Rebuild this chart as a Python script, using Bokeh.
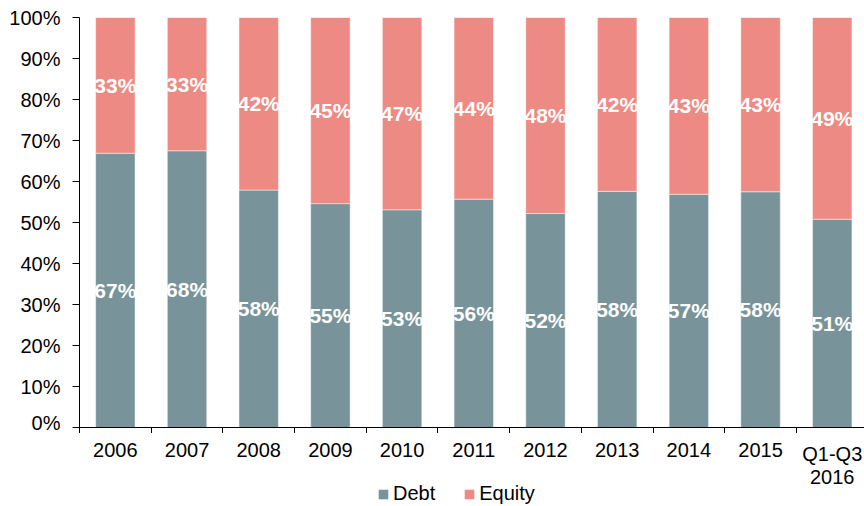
from bokeh.plotting import figure
from bokeh.layouts import column
from bokeh.models import ColumnDataSource, FixedTicker, Legend, LegendItem, Range1d
from bokeh.core.properties import value
from bokeh.embed import file_html
from bokeh.resources import INLINE
import math

# Share of debt vs equity financing per period (percent)
categories = ["2006", "2007", "2008", "2009", "2010", "2011", "2012",
              "2013", "2014", "2015", "Q1-Q3\n2016"]
debt = [66.9, 67.5, 57.9, 54.6, 53.1, 55.7, 52.2, 57.6, 56.9, 57.5, 50.8]
equity = [33.1, 32.5, 42.1, 45.4, 46.9, 44.3, 47.8, 42.4, 43.1, 42.5, 49.2]
y_ticks = [0, 10, 20, 30, 40, 50, 60, 70, 80, 90, 100]

DEBT_COLOR = "#78949A"
EQUITY_COLOR = "#ED8A83"
FONT = "Liberation Sans"
X_RANGE = (-0.5, 10.45)


def pct(v):
    return f"{int(math.floor(v + 0.5))}%"


xs = list(range(len(categories)))
src = ColumnDataSource(dict(
    x=xs,
    debt=debt,
    equity=equity,
    eq_top=[d + e for d, e in zip(debt, equity)],
    debt_mid=[d / 2 for d in debt],
    eq_mid=[d + e / 2 for d, e in zip(debt, equity)],
    debt_lbl=[pct(d) for d in debt],
    eq_lbl=[pct(e) for e in equity],
))

p = figure(width=864, frame_width=785, frame_height=410,
           x_range=Range1d(*X_RANGE), y_range=(0, 100),
           output_backend="svg", toolbar_location=None,
           min_border_left=79, min_border_right=0, min_border_top=17,
           min_border_bottom=0)
p.outline_line_color = None
p.background_fill_color = "white"
p.border_fill_color = "white"
p.xgrid.visible = False
p.ygrid.visible = False

bar_w = 0.55
bar_style = dict(line_color="white", line_alpha=0.45, line_width=1)
p.vbar(x="x", bottom=0, top="debt", width=bar_w, source=src,
       fill_color=DEBT_COLOR, **bar_style)
p.vbar(x="x", bottom="debt", top="eq_top", width=bar_w, source=src,
       fill_color=EQUITY_COLOR, **bar_style)

for ycol, tcol in (("debt_mid", "debt_lbl"), ("eq_mid", "eq_lbl")):
    p.text(x="x", y=ycol, text=tcol, source=src, text_color="white",
           text_font=value(FONT), text_font_style="bold",
           text_font_size="21px", text_align="center",
           text_baseline="middle")

# y axis
p.yaxis.ticker = FixedTicker(ticks=y_ticks)
p.yaxis.major_label_overrides = {t: f"{t}%" for t in y_ticks}
p.yaxis.major_tick_out = 7
p.yaxis.major_tick_in = 0
p.yaxis.minor_tick_out = 0
p.yaxis.minor_tick_in = 0
p.yaxis.axis_line_color = "black"
p.yaxis.major_tick_line_color = "black"
p.yaxis.major_label_text_font = FONT
p.yaxis.major_label_text_font_size = "20px"
p.yaxis.major_label_text_color = "black"
p.yaxis.major_label_standoff = 12

# x axis line with tick marks at the category boundaries
p.xaxis.ticker = FixedTicker(ticks=[],
                             minor_ticks=[i - 0.5 for i in range(len(xs) + 1)])
p.xaxis.major_tick_out = 0
p.xaxis.major_tick_in = 0
p.xaxis.minor_tick_out = 6
p.xaxis.minor_tick_in = 0
p.xaxis.minor_tick_line_color = "black"
p.xaxis.axis_line_color = "black"
p.xaxis.major_label_text_font_size = "0px"
p.xaxis.major_label_standoff = 0

# strip below: category names and legend, sharing the chart's x scale
strip_h = 73
bot = figure(width=864, height=strip_h, frame_width=785,
             x_range=p.x_range, y_range=Range1d(strip_h, 0),
             x_axis_location=None, y_axis_location=None,
             output_backend="svg", toolbar_location=None,
             min_border_left=79, min_border_right=0,
             min_border_top=0, min_border_bottom=0)
bot.outline_line_color = None
bot.xgrid.visible = False
bot.ygrid.visible = False

bot.text(x=xs, y=[9] * len(xs), text=categories, text_color="black",
         text_font=value(FONT), text_font_size="20px", text_align="center",
         text_baseline="top", text_line_height=1.05)

sw_debt = bot.vbar(x=[-10], top=[0], width=0.1, fill_color=DEBT_COLOR,
                   line_color=None)
sw_eq = bot.vbar(x=[-10], top=[0], width=0.1, fill_color=EQUITY_COLOR,
                 line_color=None)
legend = Legend(items=[LegendItem(label="Debt", renderers=[sw_debt]),
                       LegendItem(label="Equity", renderers=[sw_eq])],
                orientation="horizontal", location=(298, 1),
                label_text_font=FONT, label_text_font_size="20px",
                label_text_color="black", label_height=18,
                glyph_width=12, glyph_height=12,
                label_standoff=4, spacing=28, padding=0, margin=0,
                border_line_color=None, background_fill_alpha=0)
bot.add_layout(legend, "center")

page = column(p, bot, spacing=0)
open("out.html", "w").write(file_html(page, INLINE))
